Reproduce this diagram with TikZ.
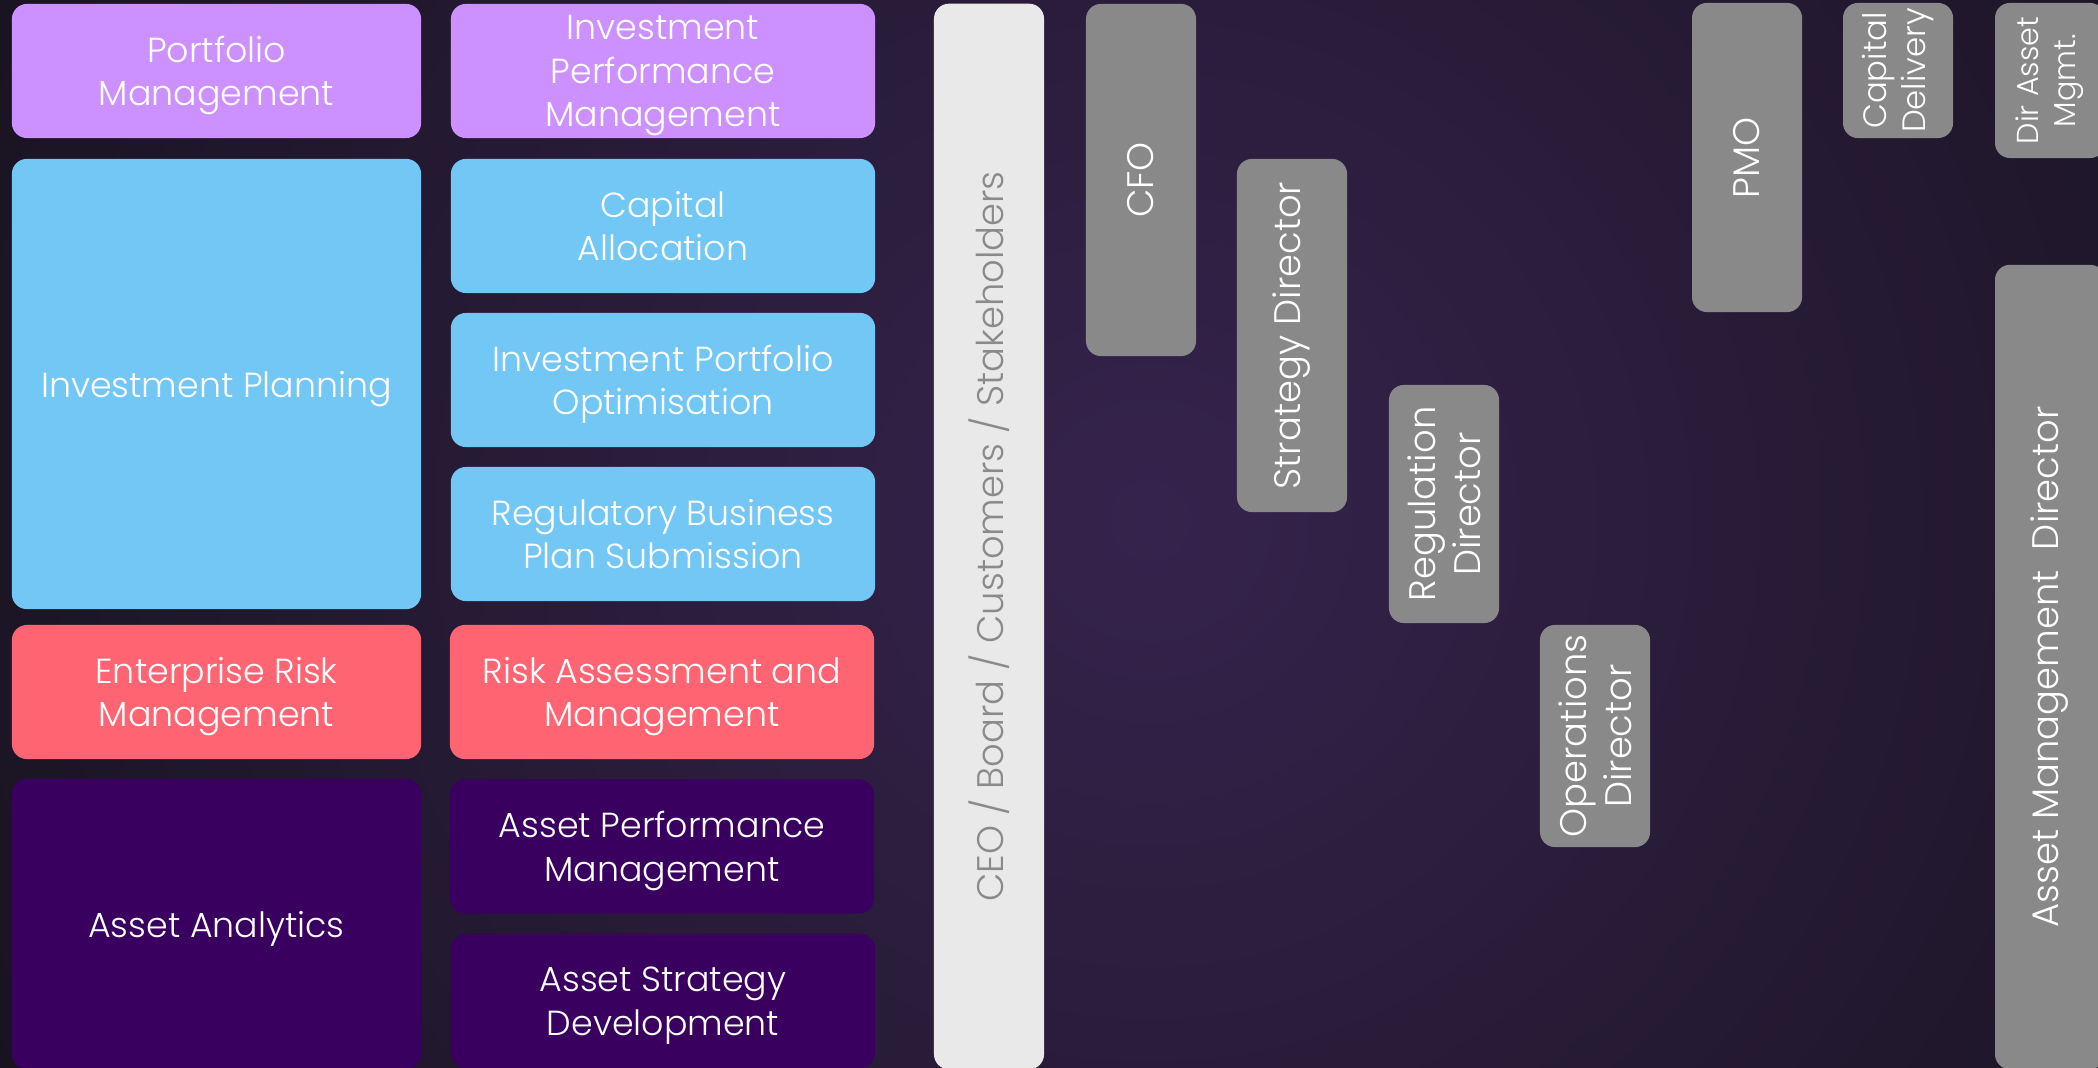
\documentclass[tikz,border=0pt]{standalone}
\usepackage{fontspec}
\setmainfont{Poppins}[UprightFont={* Light}]
\definecolor{tilepurple}{HTML}{CC91FF}
\definecolor{tileblue}{HTML}{72C7F5}
\definecolor{tilered}{HTML}{FF6473}
\definecolor{tiledark}{HTML}{390060}
\definecolor{rolegrey}{HTML}{898989}
\definecolor{ceogrey}{HTML}{E9E9E9}
\definecolor{ceotext}{HTML}{8A8A8A}
\definecolor{bginner}{HTML}{36234D}
\definecolor{bgouter}{HTML}{181320}

\begin{document}
\begin{tikzpicture}[x=0.01cm,y=-0.01cm,
	tile/.style={rounded corners=0.15cm, text=white, align=center, inner sep=0pt,
		font=\fontsize{10.5}{12.8}\selectfont},
	flat/.style={tile, font=\fontsize{9.9}{12.35}\selectfont, text depth=-1.7pt},
	colA/.style={flat, minimum width=4.09cm},
	colB/.style={flat, minimum width=4.24cm},
	short/.style={minimum height=1.34cm},
	role/.style={tile, fill=rolegrey, rotate=90, minimum height=1.10cm},
	smallrole/.style={role, font=\fontsize{9.2}{11}\selectfont}]
	\useasboundingbox (0,0) rectangle (2098,1067);
	\begin{scope}
	\clip (0,0) rectangle (2098,1067);
	\shade[inner color=bginner, outer color=bgouter] (1150,520) circle (1300);
	\node[colA, short, fill=tilepurple] (portfolio) at (216.5,71) {Portfolio\\Management};
	\node[colB, short, fill=tilepurple] (invperf) at (663,71) {Investment\\Performance\\Management};
	\node[colA, fill=tileblue, minimum height=4.50cm] (planning) at (216.5,384) {Investment Planning};
	\node[colB, short, fill=tileblue] (capalloc) at (663,226) {Capital\\Allocation};
	\node[colB, short, fill=tileblue] (optimise) at (663,380) {Investment Portfolio\\Optimisation};
	\node[colB, short, fill=tileblue] (regplan) at (663,534) {Regulatory Business\\Plan Submission};
	\node[colA, short, fill=tilered] (entrisk) at (216.5,692) {Enterprise Risk\\Management};
	\node[colB, short, fill=tilered] (riskmgmt) at (662,692) {Risk Assessment and\\Management};
	\node[colA, fill=tiledark, minimum height=2.90cm] (analytics) at (216.5,924) {Asset Analytics};
	\node[colB, short, fill=tiledark] (assetperf) at (662,846.5) {Asset Performance\\Management};
	\node[colB, short, fill=tiledark] (assetstrat) at (663,1001) {Asset Strategy\\Development};
	\node[role, fill=ceogrey, text=ceotext, minimum width=10.65cm] (ceo) at (989,536.5) {CEO / Board / Customers / Stakeholders};
	\node[role, minimum width=3.52cm] (cfo) at (1141,180) {CFO};
	\node[role, minimum width=3.53cm] (strategy) at (1292,335.5) {Strategy Director};
	\node[role, minimum width=2.38cm] (regulation) at (1444,504) {Regulation\\Director};
	\node[role, minimum width=2.22cm] (operations) at (1595,736) {Operations\\Director};
	\node[role, minimum width=3.09cm] (pmo) at (1747,157.5) {PMO};
	\node[smallrole, minimum width=1.35cm] (capdelivery) at (1898,70.5) {Capital\\Delivery};
	\node[smallrole, font=\fontsize{8.6}{10.6}\selectfont, minimum width=1.55cm] (dirasset) at (2050,80.5) {Dir Asset\\Mgmt.};
	\node[role, minimum width=8.04cm] (amdirector) at (2050,667) {Asset Management~~Director};
	\end{scope}
\end{tikzpicture}
\end{document}
